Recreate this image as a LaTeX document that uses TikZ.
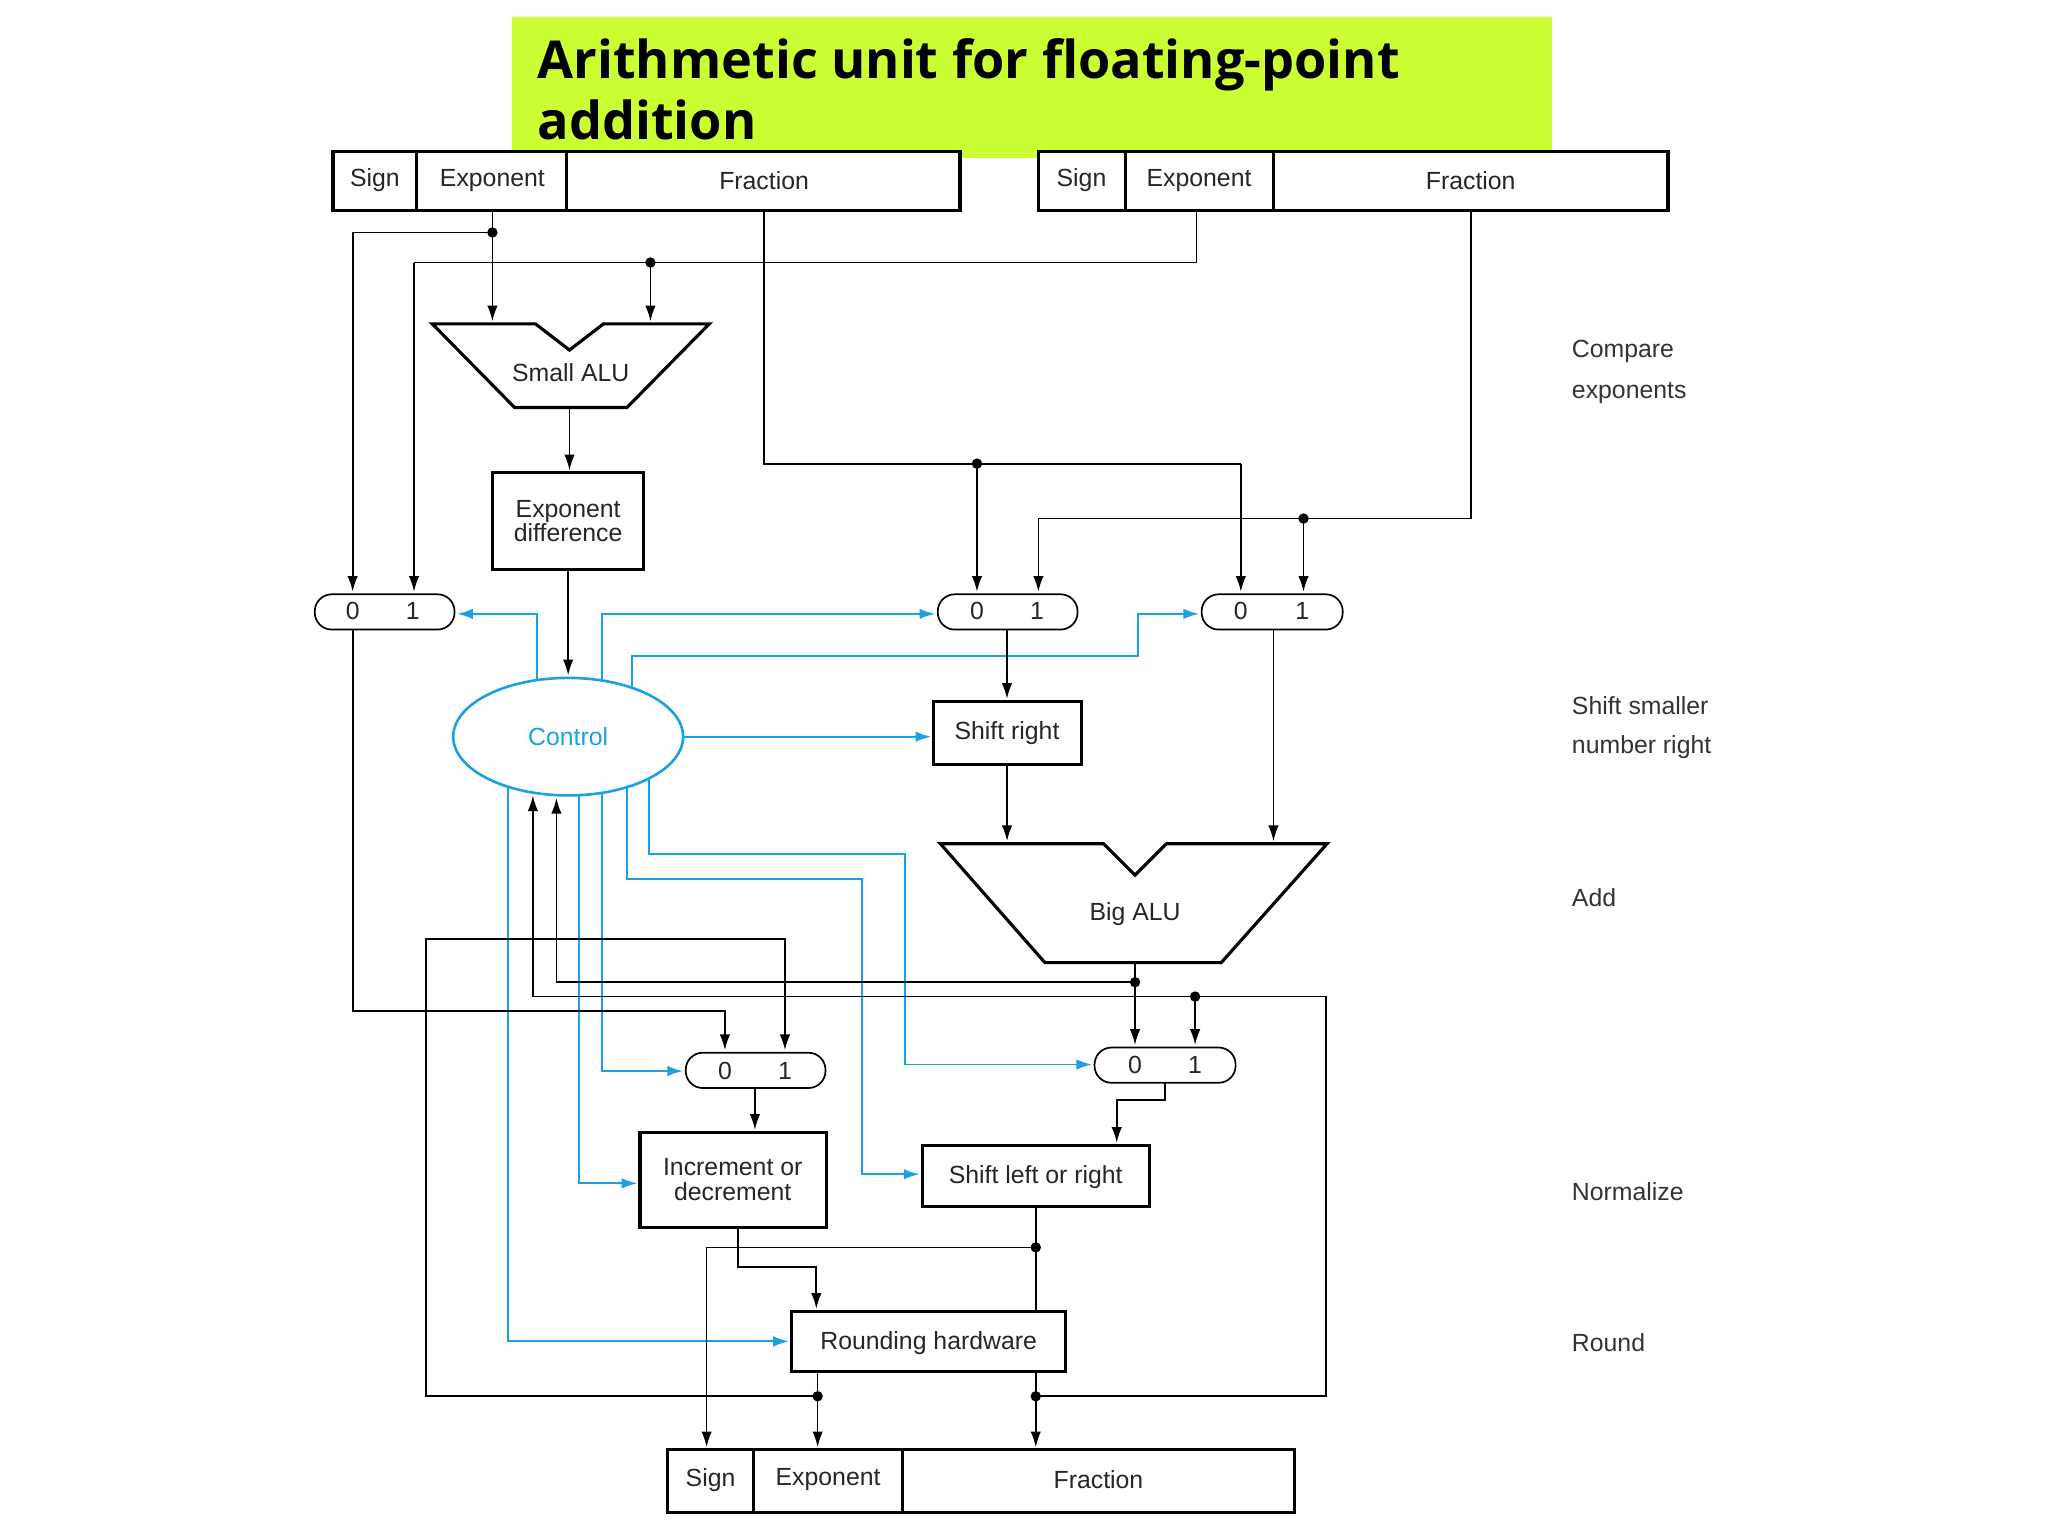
\documentclass[tikz,border=0pt]{standalone}
\usepackage{fontspec}
\setmainfont{Liberation Sans}
\newfontfamily\titlefont{Open Sans}
\usetikzlibrary{arrows.meta,shapes.geometric}
\definecolor{ctl}{HTML}{1BA1E2}
\definecolor{ttl}{HTML}{CCFF33}
\begin{document}
\begin{tikzpicture}[x=1pt,y=-1pt,
  lbl/.style={font=\fontsize{19}{22}\selectfont,text=black!85},
  box/.style={draw,line width=2.4pt,fill=white},
  wire/.style={line width=1.3pt,-{Latex[length=12pt,width=8pt]}},
  pw/.style={line width=1.3pt},
  bw/.style={line width=1.4pt,ctl,-{Latex[length=12pt,width=8pt]}},
  mux/.style={draw,line width=1.3pt,rounded corners=13pt,fill=white},
  dot/.style={circle,fill=black,inner sep=0pt,minimum size=8pt},
  side/.style={font=\fontsize{19}{22}\selectfont,text=black!80,anchor=west}]
\useasboundingbox (0,0) rectangle (1568,1176);
% title
\fill[ttl] (392,13) rectangle (1188,121);
\node[anchor=base west,font=\titlefont\bfseries\fontsize{40}{46}\selectfont] (t1) at (408,60) {Arithmetic unit for floating-point};
\node[anchor=base west,font=\titlefont\bfseries\fontsize{40}{46}\selectfont] (t2) at (408,107) {addition};
% registers
\draw[box] (255,116) rectangle (735,161); \draw[line width=2.4pt] (319,116)--(319,161) (434,116)--(434,161);
\node[lbl] at (287,138) {Sign}; \node[lbl] at (377,138) {Exponent}; \node[lbl] at (585,138) {Fraction};
\draw[box] (795,116) rectangle (1277,161); \draw[line width=2.4pt] (862,116)--(862,161) (975,116)--(975,161);
\node[lbl] at (828,138) {Sign}; \node[lbl] at (918,138) {Exponent}; \node[lbl] at (1126,138) {Fraction};
\draw[box] (511,1110) rectangle (991,1158); \draw[line width=2.4pt] (577,1110)--(577,1158) (691,1110)--(691,1158);
\node[lbl] at (544,1133) {Sign}; \node[lbl] at (634,1133) {Exponent}; \node[lbl] at (841,1133) {Fraction};
% blue wires
\draw[bw] (411,521)--(411,470)--(350,470);
\draw[bw] (461,521)--(461,470)--(716,470);
\draw[bw] (484,527)--(484,502)--(871,502)--(871,470)--(918,470);
\draw[bw] (523,564)--(713,564);
\draw[bw] (497,596)--(497,654)--(693,654)--(693,815)--(836,815);
\draw[bw] (480,603)--(480,673)--(660,673)--(660,899)--(704,899);
\draw[bw] (461,605)--(461,820)--(523,820);
\draw[bw] (443,609)--(443,906)--(488,906);
\draw[bw] (389,602)--(389,1027)--(604,1027);
\node[draw=ctl,line width=2pt,ellipse,minimum width=176pt,minimum height=90pt,inner sep=0pt,text=ctl,fill=white,font=\fontsize{19}{22}\selectfont] (ctrl) at (435,564) {Control};
% small ALU
\draw[line width=2.4pt,fill=white] (331,248)--(410,248)--(436,268)--(462,248)--(543,248)--(480,312)--(394,312)--cycle;
\node[lbl] (salu) at (437,285) {Small ALU};
\draw[box] (377,362) rectangle (493,436);
\node[lbl,align=center] (ediff) at (435,399) {Exponent\\[-3pt]difference};
% big ALU
\draw[line width=2.4pt,fill=white] (720,646)--(845,646)--(869,670)--(893,646)--(1016,646)--(935,737)--(800,737)--cycle;
\node[lbl] (balu) at (869,700) {Big ALU};
% muxes
\draw[mux] (241,455) rectangle (348,482); \node[lbl] at (270,468) {0}; \node[lbl] at (316,468) {1};
\draw[mux] (718,455) rectangle (825,482); \node[lbl] at (748,468) {0}; \node[lbl] at (794,468) {1};
\draw[mux] (920,455) rectangle (1028,482); \node[lbl] at (950,468) {0}; \node[lbl] at (997,468) {1};
\draw[mux] (525,806) rectangle (632,833); \node[lbl] at (555,820) {0}; \node[lbl] at (601,820) {1};
\draw[mux] (838,802) rectangle (946,829); \node[lbl] at (869,815) {0}; \node[lbl] at (915,815) {1};
% boxes
\draw[box] (715,537) rectangle (828,585); \node[lbl] (sr) at (771,561) {Shift right};
\draw[box] (490,867) rectangle (633,940); \node[lbl,align=center] (inc) at (561,903) {Increment or\\[-3pt]decrement};
\draw[box] (706,877) rectangle (880,924); \node[lbl] (sl) at (793,901) {Shift left or right};
\draw[box] (606,1004) rectangle (816,1050); \node[lbl] (rh) at (711,1028) {Rounding hardware};
% black wires
\draw[pw] (377,161)--(377,178)--(270,178);
\draw[wire] (270,178)--(270,453);
\draw[wire] (377,178)--(377,246);
\draw[pw] (916,161)--(916,201)--(317,201);
\draw[wire] (317,201)--(317,453);
\draw[wire] (498,201)--(498,246);
\draw[wire] (436,312)--(436,360);
\draw[wire] (435,436)--(435,517);
\draw[pw] (585,161)--(585,355)--(950,355);
\draw[wire] (950,355)--(950,453);
\draw[wire] (748,355)--(748,453);
\draw[pw] (1126,161)--(1126,397)--(795,397);
\draw[wire] (795,397)--(795,453);
\draw[wire] (998,397)--(998,453);
\draw[wire] (771,482)--(771,535);
\draw[wire] (771,585)--(771,644);
\draw[wire] (975,482)--(975,644);
\draw[wire] (270,482)--(270,774)--(555,774)--(555,804);
\draw[wire] (869,737)--(869,800);
\draw[wire] (869,752)--(426,752)--(426,611);
\draw[wire] (626,1069)--(326,1069)--(326,719)--(601,719)--(601,804);
\draw[wire] (793,1069)--(1015,1069)--(1015,763)--(408,763)--(408,609);
\draw[wire] (915,763)--(915,800);
\draw[wire] (892,829)--(892,842)--(855,842)--(855,875);
\draw[wire] (578,833)--(578,865);
\draw[pw] (793,924)--(793,1004);
\draw[pw] (793,955)--(541,955);
\draw[wire] (541,955)--(541,1108);
\draw[wire] (565,940)--(565,970)--(625,970)--(625,1002);
\draw[wire] (626,1050)--(626,1108);
\draw[wire] (793,1050)--(793,1108);
% dots
\foreach \p in {(377,178),(498,201),(748,355),(998,397),(869,752),(915,763),(793,955),(626,1069),(793,1069)}
  \node[dot] at \p {};
% side labels
\node[side] at (1200,269) {Compare};
\node[side] at (1200,301) {exponents};
\node[side] at (1200,540) {Shift smaller};
\node[side] at (1200,572) {number right};
\node[side] at (1200,687) {Add};
\node[side] at (1200,912) {Normalize};
\node[side] at (1200,1028) {Round};
\end{tikzpicture}
\end{document}
